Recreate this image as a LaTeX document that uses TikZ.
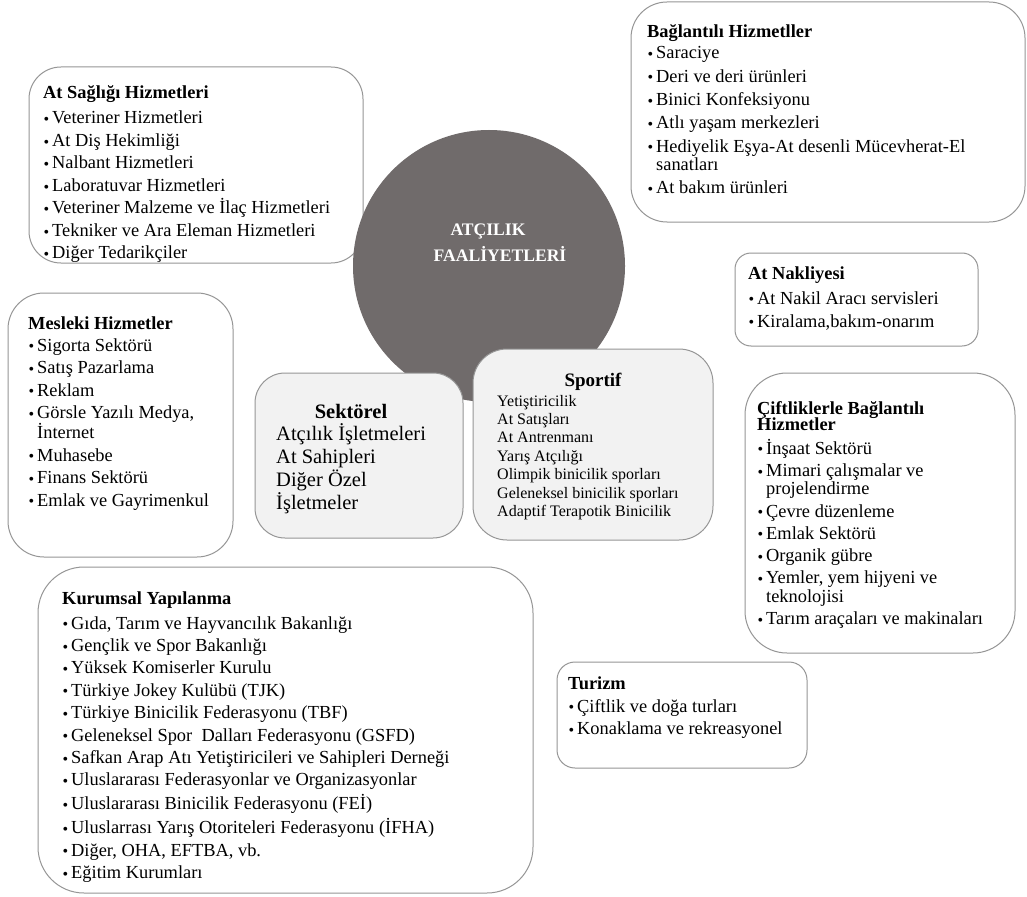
\documentclass[tikz,border=0pt]{standalone}
\usepackage{fontspec}
\setmainfont{Liberation Serif}
\definecolor{boxgray}{RGB}{150,150,150}
\definecolor{softgray}{RGB}{242,242,242}
\definecolor{circgray}{RGB}{112,107,107}
\newlength\igap
\newcommand\bul{\makebox[9pt][l]{\hspace*{0.5pt}{\fontsize{16}{16}\selectfont\raisebox{-0.6pt}{•}}}}
\newcommand\Ti[1]{\hbox{\bfseries #1}}
\newcommand\It[1]{\vskip\igap\hbox{\bul#1}}
\newcommand\Ic[1]{\hbox{\hspace*{9pt}#1}}
\newcommand\Tx[1]{\hbox{#1}}
\newcommand\Blk[4]{\vtop{\fontsize{#1}{#2}\selectfont\setlength\igap{#3}#4}}
\tikzset{
  x=1pt, y=-1pt,
  boxst/.style={draw=boxgray, line width=1pt, fill=white, inner sep=0pt},
  softbox/.style={draw=boxgray, line width=1pt, fill=softgray, inner sep=0pt},
  txt/.style={anchor=base west, inner sep=0pt, text=black},
}
\begin{document}
\begin{tikzpicture}
\path[use as bounding box, fill=white] (0,0) rectangle (1027,896);

% boxes behind the circle
\node[boxst, rounded corners=32pt, minimum width=334pt, minimum height=196pt] (sag) at (196,165) {};
\node[boxst, rounded corners=36pt, minimum width=394pt, minimum height=220pt] (bag) at (828,112) {};

% central circle
\node[circle, fill=circgray, minimum size=272pt, inner sep=0pt] (core) at (489,266) {};
\node[anchor=base, inner sep=0pt, text=white, align=center, font=\fontsize{17.6}{25.5}\selectfont\bfseries] (coreT) at (500,261) {ATÇILIK\hspace*{24pt}\\FAALİYETLERİ};

% other boxes
\node[boxst, rounded corners=36pt, minimum width=225pt, minimum height=264pt] (mes) at (120.5,425) {};
\node[boxst, rounded corners=46pt, minimum width=495pt, minimum height=326pt] (kur) at (285.5,730) {};
\node[boxst, rounded corners=16pt, minimum width=243pt, minimum height=93pt] (nak) at (856.5,299.5) {};
\node[boxst, rounded corners=42pt, minimum width=270pt, minimum height=280pt] (cif) at (880,513) {};
\node[boxst, rounded corners=18pt, minimum width=250pt, minimum height=106pt] (tur) at (682,715) {};
\node[softbox, rounded corners=30pt, minimum width=208pt, minimum height=165pt] (sek) at (359,455.5) {};
\node[softbox, rounded corners=34pt, minimum width=240pt, minimum height=191pt] (spo) at (593,444.5) {};

% texts
\node[txt] (sagT) at (43,99) {\Blk{18.4}{18.5pt}{4pt}{\Ti{At Sağlığı Hizmetleri}\vskip2.5pt
  \It{Veteriner Hizmetleri}\It{At Diş Hekimliği}\It{Nalbant Hizmetleri}
  \It{Laboratuvar Hizmetleri}\It{Veteriner Malzeme ve İlaç Hizmetleri}
  \It{Tekniker ve Ara Eleman Hizmetleri}\It{Diğer Tedarikçiler}}};

\node[txt] (bagT) at (647,38) {\Blk{18.4}{18.5pt}{4.8pt}{\Ti{Bağlantılı Hizmetller}\vskip-2.3pt
  \It{Saraciye}\It{Deri ve deri ürünleri}\It{Binici Konfeksiyonu}
  \It{Atlı yaşam merkezleri}\It{Hediyelik Eşya-At desenli Mücevherat-El}\Ic{sanatları}
  \It{At bakım ürünleri}}};

\node[txt] (mesT) at (28,329) {\Blk{18.4}{18.5pt}{4pt}{\Ti{Mesleki Hizmetler}\vskip-0.5pt
  \It{Sigorta Sektörü}\It{Satış Pazarlama}\It{Reklam}
  \It{Görsle Yazılı Medya,}\Ic{İnternet}\It{Muhasebe}\It{Finans Sektörü}
  \It{Emlak ve Gayrimenkul}}};

\node[txt] (kurT) at (62,604) {\Blk{18.4}{18.5pt}{3.86pt}{\Ti{Kurumsal Yapılanma}\vskip2.9pt
  \It{Gıda, Tarım ve Hayvancılık Bakanlığı}\It{Gençlik ve Spor Bakanlığı}
  \It{Yüksek Komiserler Kurulu}\It{Türkiye Jokey Kulübü (TJK)}
  \It{Türkiye Binicilik Federasyonu (TBF)}
  \It{Geleneksel Spor\ \ Dalları Federasyonu (GSFD)}
  \It{Safkan Arap Atı Yetiştiricileri ve Sahipleri Derneği}
  \It{Uluslararası Federasyonlar ve Organizasyonlar}
  \It{Uluslararası Binicilik Federasyonu (FEİ)}
  \It{Uluslarrası Yarış Otoriteleri Federasyonu (İFHA)}
  \It{Diğer, OHA, EFTBA, vb.}\It{Eğitim Kurumları}}};

\node[txt] (nakT) at (748,279) {\Blk{18.4}{18.5pt}{4.5pt}{\Ti{At Nakliyesi}\vskip2pt
  \It{At Nakil Aracı servisleri}\It{Kiralama,bakım-onarım}}};

\node[txt] (cifT) at (757,414) {\Blk{18.4}{18.5pt}{3.7pt}{\Ti{Çiftliklerle Bağlantılı}\vskip-2pt\Ti{Hizmetler}\vskip1.5pt
  \It{İnşaat Sektörü}\It{Mimari çalışmalar ve}\Ic{projelendirme}
  \It{Çevre düzenleme}\It{Emlak Sektörü}\It{Organik gübre}
  \It{Yemler, yem hijyeni ve}\Ic{teknolojisi}\It{Tarım araçaları ve makinaları}}};

\node[txt] (turT) at (568,689) {\Blk{18.4}{18.5pt}{4pt}{\Ti{Turizm}\vskip0.5pt
  \It{Çiftlik ve doğa turları}\It{Konaklama ve rekreasyonel}}};

\node[anchor=base, inner sep=0pt, font=\fontsize{20.5}{23}\selectfont\bfseries] (sekH) at (351,418) {Sektörel};
\node[txt] (sekT) at (276,440) {\Blk{20.5}{23.3pt}{0pt}{\Tx{Atçılık İşletmeleri}\Tx{At Sahipleri}\Tx{Diğer Özel}\Tx{İşletmeler}}};

\node[anchor=base, inner sep=0pt, font=\fontsize{19}{21}\selectfont\bfseries] (spoH) at (593,386) {Sportif};
\node[txt] (spoT) at (497,406) {\Blk{16}{18.4pt}{0pt}{\Tx{Yetiştiricilik}\Tx{At Satışları}\Tx{At Antrenmanı}\Tx{Yarış Atçılığı}\Tx{Olimpik binicilik sporları}\Tx{Geleneksel binicilik sporları}\Tx{Adaptif Terapotik Binicilik}}};
\end{tikzpicture}
\end{document}
